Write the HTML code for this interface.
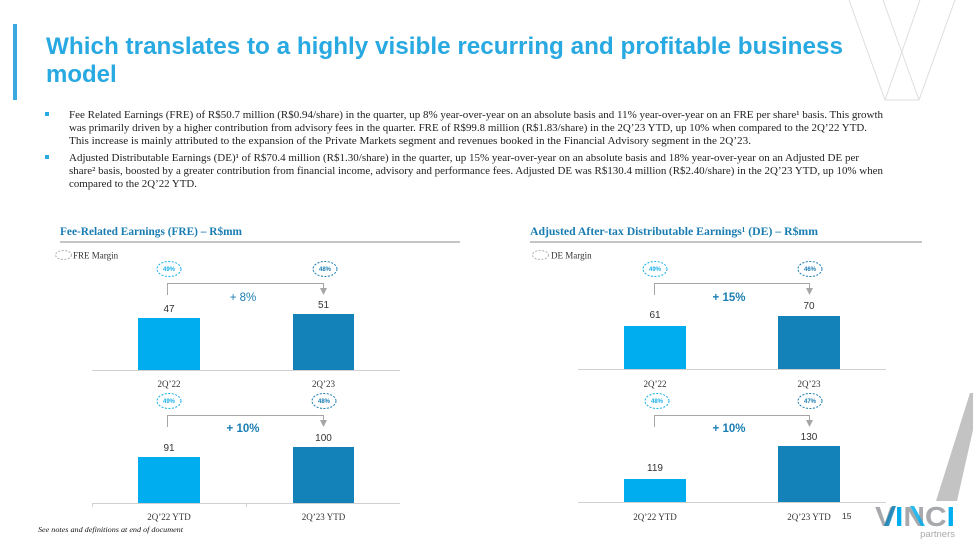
<!DOCTYPE html>
<html>
<head>
<meta charset="utf-8">
<style>
  html,body{margin:0;padding:0;background:#fff;}
  body{width:973px;height:548px;overflow:hidden;}
  svg{display:block;}
</style>
</head>
<body>
<svg width="973" height="548" viewBox="0 0 973 548" xmlns="http://www.w3.org/2000/svg">
  <rect width="973" height="548" fill="#fff"/>

  <!-- top-right decorative V lines -->
  <g stroke="#dedede" stroke-width="1" fill="none">
    <line x1="849" y1="0" x2="885" y2="100"/>
    <line x1="883" y1="0" x2="919" y2="100"/>
    <line x1="920" y1="0" x2="885" y2="100"/>
    <line x1="955" y1="0" x2="919" y2="100"/>
    <line x1="885" y1="100" x2="919" y2="100"/>
  </g>

  <!-- left accent bar -->
  <rect x="13" y="24" width="4" height="76" fill="#3aa9e0"/>

  <!-- Title -->
  <g font-family="Liberation Sans, Arial, sans-serif" font-weight="bold" font-size="24" fill="#29a9e1">
    <text x="46" y="54" textLength="797" lengthAdjust="spacingAndGlyphs">Which translates to a highly visible recurring and profitable business</text>
    <text x="46" y="82">model</text>
  </g>

  <!-- Bullets -->
  <rect x="45" y="112" width="4" height="4" fill="#29a9e1"/>
  <rect x="45" y="155" width="4" height="4" fill="#29a9e1"/>
  <g font-family="Liberation Serif, 'Times New Roman', serif" font-size="10.5" fill="#222">
    <text x="69" y="118" textLength="814" lengthAdjust="spacingAndGlyphs">Fee Related Earnings (FRE) of R$50.7 million (R$0.94/share) in the quarter, up 8% year-over-year on an absolute basis and 11% year-over-year on an FRE per share¹ basis. This growth</text>
    <text x="69" y="131" textLength="798" lengthAdjust="spacingAndGlyphs">was primarily driven by a higher contribution from advisory fees in the quarter. FRE of R$99.8 million (R$1.83/share) in the 2Q’23 YTD, up 10% when compared to the 2Q’22 YTD.</text>
    <text x="69" y="144" textLength="682" lengthAdjust="spacingAndGlyphs">This increase is mainly attributed to the expansion of the Private Markets segment and revenues booked in the Financial Advisory segment in the 2Q’23.</text>
    <text x="69" y="161" textLength="790" lengthAdjust="spacingAndGlyphs">Adjusted Distributable Earnings (DE)¹ of R$70.4 million (R$1.30/share) in the quarter, up 15% year-over-year on an absolute basis and 18% year-over-year on an Adjusted DE per</text>
    <text x="69" y="174" textLength="814" lengthAdjust="spacingAndGlyphs">share² basis, boosted by a greater contribution from financial income, advisory and performance fees. Adjusted DE was R$130.4 million (R$2.40/share) in the 2Q’23 YTD, up 10% when</text>
    <text x="69" y="187" textLength="128" lengthAdjust="spacingAndGlyphs">compared to the 2Q’22 YTD.</text>
  </g>

  <!-- Chart titles -->
  <g font-family="Liberation Serif, 'Times New Roman', serif" font-weight="bold" font-size="11.5" fill="#1a7db2">
    <text x="60" y="235" textLength="182" lengthAdjust="spacingAndGlyphs">Fee-Related Earnings (FRE) – R$mm</text>
    <text x="530" y="235" textLength="288" lengthAdjust="spacingAndGlyphs">Adjusted After-tax Distributable Earnings¹ (DE) – R$mm</text>
  </g>
  <line x1="60" y1="242" x2="460" y2="242" stroke="#8a8a8a" stroke-width="1"/>
  <line x1="530" y1="242" x2="922" y2="242" stroke="#8a8a8a" stroke-width="1"/>

  <!-- Legends -->
  <ellipse cx="63.5" cy="255" rx="8" ry="4.5" fill="none" stroke="#b0b0b0" stroke-width="1" stroke-dasharray="2 1.5"/>
  <text x="73" y="258.5" font-family="Liberation Serif, serif" font-size="9" fill="#333">FRE Margin</text>
  <ellipse cx="540.5" cy="255" rx="8" ry="4.5" fill="none" stroke="#b0b0b0" stroke-width="1" stroke-dasharray="2 1.5"/>
  <text x="551" y="258.5" font-family="Liberation Serif, serif" font-size="9" fill="#333">DE Margin</text>

  <!-- Bubbles -->
  <g fill="none" stroke-width="1" stroke-dasharray="2 1.5">
    <ellipse cx="169" cy="269" rx="12" ry="7.5" stroke="#1ab0e8"/>
    <ellipse cx="325" cy="269" rx="12" ry="7.5" stroke="#1a7db2"/>
    <ellipse cx="169" cy="401" rx="12" ry="7.5" stroke="#1ab0e8"/>
    <ellipse cx="324" cy="401" rx="12" ry="7.5" stroke="#1a7db2"/>
    <ellipse cx="655" cy="269" rx="12" ry="7.5" stroke="#1ab0e8"/>
    <ellipse cx="810" cy="269" rx="12" ry="7.5" stroke="#1a7db2"/>
    <ellipse cx="657" cy="401" rx="12" ry="7.5" stroke="#1ab0e8"/>
    <ellipse cx="810" cy="401" rx="12" ry="7.5" stroke="#1a7db2"/>
  </g>
  <g font-family="Liberation Sans, Arial, sans-serif" font-size="6" font-weight="bold" text-anchor="middle">
    <text x="169" y="271" fill="#1ab0e8">49%</text>
    <text x="325" y="271" fill="#1a7db2">48%</text>
    <text x="169" y="403" fill="#1ab0e8">49%</text>
    <text x="324" y="403" fill="#1a7db2">48%</text>
    <text x="655" y="271" fill="#1ab0e8">49%</text>
    <text x="810" y="271" fill="#1a7db2">46%</text>
    <text x="657" y="403" fill="#1ab0e8">48%</text>
    <text x="810" y="403" fill="#1a7db2">47%</text>
  </g>

  <!-- Brackets -->
  <g stroke="#a6a6a6" stroke-width="1" fill="none">
    <polyline points="167.5,295 167.5,283.5 323.5,283.5 323.5,289"/>
    <polyline points="167.5,427 167.5,415.5 323.5,415.5 323.5,421"/>
    <polyline points="654.5,295 654.5,283.5 809.5,283.5 809.5,289"/>
    <polyline points="654.5,427 654.5,415.5 809.5,415.5 809.5,421"/>
  </g>
  <g fill="#a6a6a6">
    <polygon points="320,288 327,288 323.5,295"/>
    <polygon points="320,420 327,420 323.5,427"/>
    <polygon points="806,288 813,288 809.5,295"/>
    <polygon points="806,420 813,420 809.5,427"/>
  </g>

  <!-- Growth labels -->
  <g font-family="Liberation Sans, Arial, sans-serif" font-size="11.5" fill="#1a7db2" text-anchor="middle">
    <text x="243" y="301">+ 8%</text>
    <text x="243" y="432" font-weight="bold">+ 10%</text>
    <text x="729" y="301" font-weight="bold">+ 15%</text>
    <text x="729" y="432" font-weight="bold">+ 10%</text>
  </g>

  <!-- Bars -->
  <rect x="138" y="318" width="62" height="52" fill="#00aeef"/>
  <rect x="293" y="314" width="61" height="56" fill="#1282b8"/>
  <rect x="138" y="457" width="62" height="46" fill="#00aeef"/>
  <rect x="293" y="447" width="61" height="56" fill="#1282b8"/>
  <rect x="624" y="326" width="62" height="43" fill="#00aeef"/>
  <rect x="778" y="316" width="62" height="53" fill="#1282b8"/>
  <rect x="624" y="479" width="62" height="23" fill="#00aeef"/>
  <rect x="778" y="446" width="62" height="56" fill="#1282b8"/>

  <!-- Axis lines -->
  <g stroke="#d0d0d0" stroke-width="1">
    <line x1="92" y1="370.5" x2="400" y2="370.5"/>
    <line x1="92" y1="503.5" x2="400" y2="503.5"/>
    <line x1="92.5" y1="503" x2="92.5" y2="507"/>
    <line x1="246.5" y1="503" x2="246.5" y2="507"/>
    <line x1="578" y1="369.5" x2="886" y2="369.5"/>
    <line x1="578" y1="502.5" x2="886" y2="502.5"/>
  </g>

  <!-- Data labels -->
  <g font-family="Liberation Sans, Arial, sans-serif" font-size="10" fill="#333" text-anchor="middle">
    <text x="169" y="312">47</text>
    <text x="323.5" y="308">51</text>
    <text x="169" y="451">91</text>
    <text x="323.5" y="441">100</text>
    <text x="655" y="318">61</text>
    <text x="809" y="309">70</text>
    <text x="655" y="471">119</text>
    <text x="809" y="440">130</text>
  </g>

  <!-- Category labels -->
  <g font-family="Liberation Serif, serif" font-size="9" fill="#333" text-anchor="middle">
    <text x="169" y="387">2Q’22</text>
    <text x="323.5" y="387">2Q’23</text>
    <text x="169" y="520">2Q’22 YTD</text>
    <text x="323.5" y="520">2Q’23 YTD</text>
    <text x="655" y="387">2Q’22</text>
    <text x="809" y="387">2Q’23</text>
    <text x="655" y="520">2Q’22 YTD</text>
    <text x="809" y="520">2Q’23 YTD</text>
  </g>

  <!-- footnote & page -->
  <text x="38" y="532" font-family="Liberation Serif, serif" font-style="italic" font-size="7.5" fill="#111" textLength="145" lengthAdjust="spacingAndGlyphs">See notes and definitions at end of document</text>
  <text x="842" y="519" font-family="Liberation Sans, Arial, sans-serif" font-size="8.5" fill="#333">15</text>

  <!-- bottom-right gray stripe -->
  <polygon points="936,501 957,501 973,430 973,393 970,393" fill="#c3c3c3"/>

  <!-- VINCI logo -->
  <g font-family="Liberation Sans, Arial, sans-serif" font-weight="bold" font-size="28">
    <text x="875" y="526" textLength="80" lengthAdjust="spacingAndGlyphs"><tspan fill="#a7a9ac">V</tspan><tspan fill="#00aeef">I</tspan><tspan fill="#a7a9ac">N</tspan><tspan fill="#a7a9ac">C</tspan><tspan fill="#00aeef">I</tspan></text>
  </g>
  <!-- blue accents on V and N -->
  <polygon points="884,526 889,526 896,506 892,506" fill="#1282b8" opacity="0.85"/>
  <polygon points="910,506 914,506 925,526 921,526" fill="#00aeef" opacity="0.85"/>
  <text x="955" y="537" text-anchor="end" font-family="Liberation Sans, Arial, sans-serif" font-size="9.5" fill="#a7a9ac">partners</text>
</svg>
</body>
</html>
